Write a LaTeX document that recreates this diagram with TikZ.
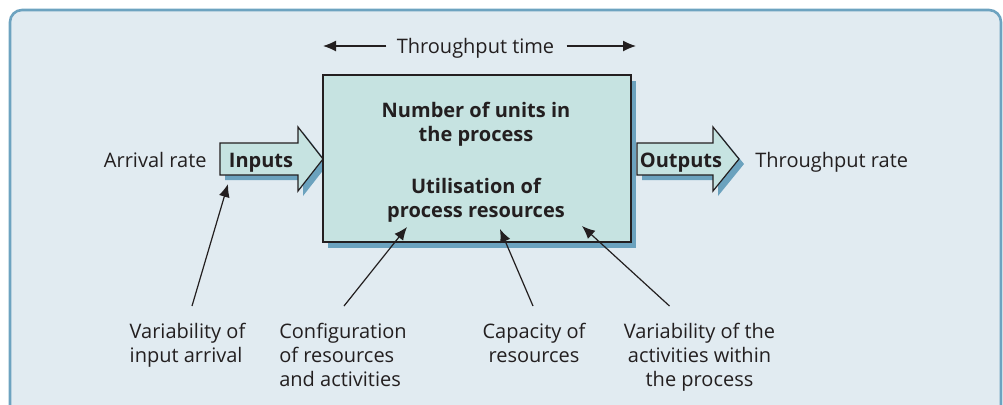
\documentclass[tikz,border=0pt]{standalone}
\usepackage{fontspec}
\setmainfont{Open Sans}
\usetikzlibrary{positioning,arrows.meta,shadows}
\definecolor{panelblue}{RGB}{225,235,241}
\definecolor{edgeblue}{RGB}{109,163,192}
\definecolor{boxteal}{RGB}{198,227,225}
\definecolor{shadowblue}{RGB}{107,162,190}
\definecolor{inkgray}{RGB}{35,31,32}

\begin{document}
\begin{tikzpicture}[
    x=0.5pt, y=-0.5pt,
    txt/.style={font=\fontsize{10}{12}\selectfont, text=inkgray, inner sep=0pt},
    lbl/.style={txt, align=left, anchor=north},
    boldtxt/.style={txt, font=\fontsize{10}{12}\selectfont\bfseries, align=center},
    pointer/.style={-{Latex[length=6.5pt,width=5.5pt]}, draw=inkgray, line width=0.6pt},
    flow/.style={draw=inkgray, line width=0.6pt, fill=boxteal}
  ]
    \clip (0,0) rectangle (1003,404);
    \draw[edgeblue, line width=1.3pt, fill=panelblue, rounded corners=6pt] (10,10) rectangle (1001,440);

    % input arrow (under the box)
    \fill[shadowblue, shift={(5,5)}] (220,143) -- (298,143) -- (298,127) -- (323,159) -- (298,191) -- (298,175) -- (220,175) -- cycle;
    \draw[flow] (220,143) -- (298,143) -- (298,127) -- (323,159) -- (298,191) -- (298,175) -- (220,175) -- cycle;
    \node[boldtxt, anchor=base] (inputs) at (261,167) {Inputs};

    % the process box
    \node[flow, line width=0.8pt, minimum width=154pt, minimum height=83.5pt, inner sep=0pt,
      drop shadow={shadow xshift=2.5pt, shadow yshift=-3pt, fill=shadowblue, opacity=1}] (proc) at (477,158.5) {};
    \node[boldtxt, anchor=north] (units) at (476,102) {Number of units in\\the process};
    \node[boldtxt, anchor=north] (util) at (476,178) {Utilisation of\\process resources};

    % output arrow
    \fill[shadowblue, shift={(5,5)}] (637,143) -- (713,143) -- (713,127) -- (739,159) -- (713,191) -- (713,175) -- (637,175) -- cycle;
    \draw[flow] (637,143) -- (713,143) -- (713,127) -- (739,159) -- (713,191) -- (713,175) -- (637,175) -- cycle;
    \node[boldtxt, anchor=base] (outputs) at (681,167) {Outputs};

    \node[txt, anchor=base east] (arrival) at (207,167) {Arrival rate};
    \node[txt, anchor=base west] (tprate) at (755,167) {Throughput rate};

    % throughput time
    \node[txt, anchor=base] (tptime) at (475.5,53) {Throughput time};
    \coordinate (tstart) at (323,46);
    \coordinate (tend) at (636,46);
    \draw[pointer, shorten <=5pt] (tptime.west |- tstart) -- (tstart);
    \draw[pointer, shorten <=6pt] (tptime.east |- tend) -- (tend);

    % influences
    \node[lbl] (varin) at (187.5,323) {Variability of\\input arrival};
    \node[lbl] (config) at (343,323) {Configuration\\of resources\\and activities};
    \node[lbl, align=center] (capac) at (534,323) {Capacity of\\resources};
    \node[lbl, align=center] (varact) at (699.5,323) {Variability of the\\activities within\\the process};
    \coordinate (hitA) at (228,184);
    \coordinate (hitB) at (407,227);
    \coordinate (hitC) at (500,229);
    \coordinate (hitD) at (582,226);
    \draw[pointer] ([xshift=2.25pt,yshift=8.5pt]varin.north) -- (hitA);
    \draw[pointer] ([xshift=0.5pt,yshift=8.5pt]config.north) -- (hitB);
    \draw[pointer] ([xshift=-0.5pt,yshift=8.5pt]capac.north) -- (hitC);
    \draw[pointer] ([xshift=-15pt,yshift=8.5pt]varact.north) -- (hitD);
  \end{tikzpicture}
\end{document}
